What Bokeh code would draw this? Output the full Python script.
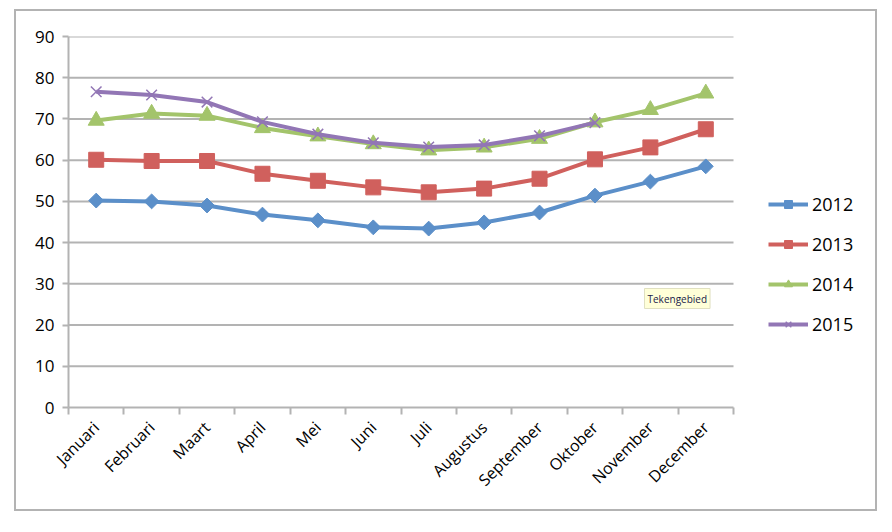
from bokeh.plotting import figure
from bokeh.models import (Legend, LegendItem, Label, FixedTicker, LinearAxis,
                          CustomJSTickFormatter)
from bokeh.embed import file_html
from bokeh.resources import INLINE

months = ["Januari", "Februari", "Maart", "April", "Mei", "Juni", "Juli",
          "Augustus", "September", "Oktober", "November", "December"]
y2012 = [50.2, 50.0, 49.0, 46.8, 45.4, 43.7, 43.4, 44.9, 47.3, 51.4, 54.8, 58.5]
y2013 = [60.1, 59.8, 59.8, 56.7, 55.0, 53.4, 52.2, 53.1, 55.5, 60.2, 63.1, 67.5]
y2014 = [69.6, 71.3, 70.8, 67.8, 65.8, 63.9, 62.4, 63.1, 65.2, 69.2, 72.2, 76.2]
y2015 = [76.6, 75.8, 74.1, 69.3, 66.3, 64.2, 63.2, 63.7, 65.9, 69.1]
y_ticks = [0, 10, 20, 30, 40, 50, 60, 70, 80, 90]

FONT = "Open Sans"
GRID = "#b3b3b3"

n = len(months)
centers = [i + 0.5 for i in range(n)]
# plot-area width 665px for the 12 months; frame continues 144px further
# to the right to hold the legend
x_end = n * (665 + 144) / 665

p = figure(x_range=(0, x_end), y_range=(0, 90), width=863, height=502,
           output_backend="svg", toolbar_location=None,
           min_border_left=52, min_border_right=2, min_border_top=25,
           min_border_bottom=106,
           styles={"margin-left": "14px", "margin-top": "9px",
                   "border": "2px solid #b3b3b3"})
p.outline_line_color = None
p.xgrid.grid_line_color = None
p.ygrid.grid_line_color = None

# horizontal gridlines over the month area only
p.segment(x0=0, x1=n, y0=y_ticks[1:], y1=y_ticks[1:],
          line_color=GRID, line_width=2, level="underlay")

yax = p.yaxis[0]
yax.ticker = FixedTicker(ticks=y_ticks)
yax.axis_line_color = GRID
yax.axis_line_width = 2
yax.major_tick_line_color = GRID
yax.major_tick_line_width = 2
yax.major_tick_in = 0
yax.major_tick_out = 6
yax.minor_tick_line_color = None
yax.major_label_text_font = FONT
yax.major_label_text_font_size = "17px"
yax.major_label_text_color = "#000000"
yax.major_label_standoff = 8

# boundary ticks (category separators)
bax = p.xaxis[0]
bax.bounds = (0, n)
bax.ticker = FixedTicker(ticks=list(range(n + 1)))
bax.formatter = CustomJSTickFormatter(code="return ''")
bax.axis_line_color = GRID
bax.axis_line_width = 2
bax.major_tick_line_color = GRID
bax.major_tick_line_width = 2
bax.major_tick_in = 0
bax.major_tick_out = 7
bax.minor_tick_line_color = None
bax.major_label_text_font_size = "1px"
bax.major_label_standoff = 0

# month labels
lax = LinearAxis(ticker=FixedTicker(ticks=centers), bounds=(0, n),
                 major_label_overrides={c: m for c, m in zip(centers, months)},
                 axis_line_color=None, major_tick_line_color=None,
                 minor_tick_line_color=None,
                 major_label_text_font=FONT, major_label_text_font_size="16px",
                 major_label_text_color="#000000",
                 major_label_orientation=0.785, major_label_standoff=4)
p.add_layout(lax, "below")

series = [
    ("2012", y2012, "#5b8fc9", "square", 10.5, 0.785),
    ("2013", y2013, "#d0605d", "square", 15, 0),
    ("2014", y2014, "#a3c46b", "triangle", 16, 0),
    ("2015", y2015, "#9276b5", "x", 15, 0),
]
items = []
for name, vals, col, mk, sz, ang in series:
    xs = centers[:len(vals)]
    l = p.line(xs, vals, line_color=col, line_width=4, line_join="round")
    if mk == "x":
        s = p.scatter(xs, vals, marker=mk, size=sz, line_color=col, line_width=1.5)
    else:
        s = p.scatter(xs, vals, marker=mk, size=sz, angle=ang,
                      fill_color=col, line_color=col)
    items.append(LegendItem(label=name, renderers=[l, s]))

legend = Legend(items=items, location=(700, 71), glyph_width=40, glyph_height=20,
                spacing=16, label_standoff=4, padding=0, margin=0,
                border_line_color=None, background_fill_alpha=0,
                label_text_font=FONT, label_text_font_size="18px",
                label_text_color="#000000")
p.add_layout(legend, "center")

# tooltip
p.add_layout(Label(x=626, y=295, x_units="canvas", y_units="canvas",
                   text="Tekengebied", text_font=FONT, text_font_size="10px",
                   text_color="#1a1a4a", background_fill_color="#ffffd8",
                   border_line_color="#e0e0c0", padding=3))

open("out.html", "w").write(file_html(p, INLINE))
